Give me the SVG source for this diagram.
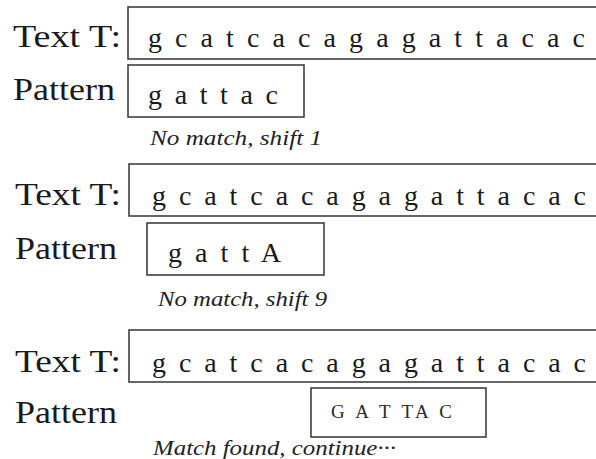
<svg xmlns="http://www.w3.org/2000/svg" width="596" height="459" viewBox="0 0 596 459">
<style>
.lbl{font-family:"Liberation Serif","DejaVu Serif",serif;font-size:32px;fill:#1a1a1a}
.seq{font-family:"Liberation Serif","DejaVu Serif",serif;font-size:28px;fill:#1a1a1a}
.cap{font-family:"Liberation Serif","DejaVu Serif",serif;font-size:19px;fill:#2a2a2a}
.note{font-family:"Liberation Serif","DejaVu Serif",serif;font-size:20px;font-style:italic;fill:#222}
.box{fill:#fff;stroke:#333;stroke-width:1.5}
</style>
<rect width="596" height="459" fill="#fff"/>
<g id="connectors"></g>
<g id="step1">
  <g id="text1">
    <rect class="box" x="128" y="7" width="480" height="52"/>
    <text class="lbl" x="13" y="47" textLength="108" lengthAdjust="spacingAndGlyphs">Text T:</text>
    <text class="seq" x="148" y="47" textLength="437" lengthAdjust="spacing">g c a t c a c a g a g a t t a c a c</text>
  </g>
  <g id="pattern1">
    <rect class="box" x="128" y="65" width="176" height="52"/>
    <text class="lbl" x="13" y="100" textLength="102" lengthAdjust="spacingAndGlyphs">Pattern</text>
    <text class="seq" x="148" y="104" textLength="130" lengthAdjust="spacing">g a t t a c</text>
  </g>
  <text class="note" x="150" y="145" textLength="172" lengthAdjust="spacingAndGlyphs">No match, shift 1</text>
</g>
<g id="step2">
  <g id="text2">
    <rect class="box" x="129" y="164" width="480" height="52"/>
    <text class="lbl" x="15" y="205" textLength="106" lengthAdjust="spacingAndGlyphs">Text T:</text>
    <text class="seq" x="152" y="205" textLength="434" lengthAdjust="spacing">g c a t c a c a g a g a t t a c a c</text>
  </g>
  <g id="pattern2">
    <rect class="box" x="147" y="223" width="177" height="52"/>
    <text class="lbl" x="15" y="259" textLength="102" lengthAdjust="spacingAndGlyphs">Pattern</text>
    <text class="seq" x="168" y="262" textLength="113" lengthAdjust="spacing">g a t t A</text>
  </g>
  <text class="note" x="158" y="306" textLength="169" lengthAdjust="spacingAndGlyphs">No match, shift 9</text>
</g>
<g id="step3">
  <g id="text3">
    <rect class="box" x="129" y="330" width="480" height="52"/>
    <text class="lbl" x="15" y="372" textLength="106" lengthAdjust="spacingAndGlyphs">Text T:</text>
    <text class="seq" x="152" y="372" textLength="434" lengthAdjust="spacing">g c a t c a c a g a g a t t a c a c</text>
  </g>
  <g id="pattern3">
    <rect class="box" x="311" y="388" width="175" height="49"/>
    <text class="lbl" x="15" y="423" textLength="102" lengthAdjust="spacingAndGlyphs">Pattern</text>
    <text class="cap" x="331" y="418" textLength="121" lengthAdjust="spacing">G A T TA C</text>
  </g>
  <text class="note" x="153" y="455" textLength="243" lengthAdjust="spacingAndGlyphs">Match found, continue···</text>
</g>
</svg>
